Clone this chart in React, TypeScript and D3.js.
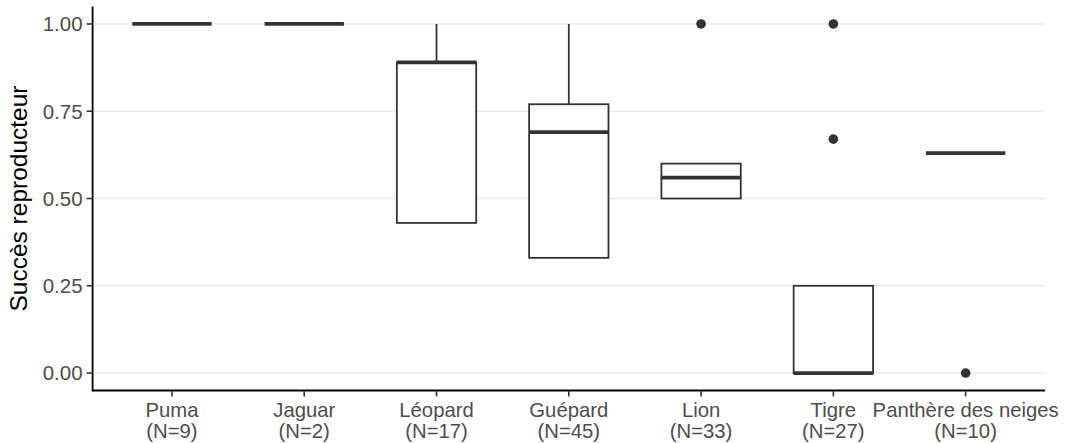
import React from "react";
import * as d3 from "d3";

const categories = ["Puma", "Jaguar", "Léopard", "Guépard", "Lion", "Tigre", "Panthère des neiges"];
const counts = [9, 2, 17, 45, 33, 27, 10];
const q1 = [1.0, 1.0, 0.43, 0.33, 0.5, 0.0, 0.63];
const medians = [1.0, 1.0, 0.89, 0.69, 0.56, 0.0, 0.63];
const q3 = [1.0, 1.0, 0.89, 0.77, 0.6, 0.25, 0.63];
const whiskerLow = [1.0, 1.0, 0.43, 0.33, 0.5, 0.0, 0.63];
const whiskerHigh = [1.0, 1.0, 1.0, 1.0, 0.6, 0.25, 0.63];
const outliers: number[][] = [[], [], [], [], [1.0], [1.0, 0.67], [0.0]];
const yTicks = [0, 0.25, 0.5, 0.75, 1.0];
const yTitle = "Succès reproducteur";

const W = 1066;
const H = 443;
const left = 92.6;
const right = 1045;
const top = 6.5;
const bottom = 390.5;

export default function App() {
  const x = d3.scalePoint<string>().domain(categories).range([left, right]).padding(0.6);
  const y = d3.scaleLinear().domain([-0.05, 1.05]).range([bottom, top]);
  const step = x.step();
  const bw = step * 0.6;
  const font = "'Liberation Sans', Arial, sans-serif";
  const stroke = "#333333";

  return (
    <svg width={W} height={H} style={{ position: "absolute", left: 0, top: 0, background: "#fff" }} fontFamily={font}>
      {yTicks.map((t) => (
        <line key={"g" + t} x1={left} x2={right} y1={y(t)} y2={y(t)} stroke="#ebebeb" strokeWidth={1.4} />
      ))}
      {categories.map((c, i) => {
        const cx = x(c)!;
        return (
          <g key={c}>
            {whiskerHigh[i] > q3[i] && (
              <line x1={cx} x2={cx} y1={y(q3[i])} y2={y(whiskerHigh[i])} stroke={stroke} strokeWidth={1.8} />
            )}
            {whiskerLow[i] < q1[i] && (
              <line x1={cx} x2={cx} y1={y(q1[i])} y2={y(whiskerLow[i])} stroke={stroke} strokeWidth={1.8} />
            )}
            <rect
              x={cx - bw / 2}
              width={bw}
              y={y(q3[i])}
              height={y(q1[i]) - y(q3[i])}
              fill="#fff"
              stroke={stroke}
              strokeWidth={1.8}
            />
            <line x1={cx - bw / 2} x2={cx + bw / 2} y1={y(medians[i])} y2={y(medians[i])} stroke={stroke} strokeWidth={3.8} />
            {outliers[i].map((o, j) => (
              <circle key={j} cx={cx} cy={y(o)} r={4.8} fill={stroke} />
            ))}
          </g>
        );
      })}
      {/* axes */}
      <line x1={left} x2={left} y1={top} y2={bottom + 0.8} stroke="#000" strokeWidth={1.8} />
      <line x1={left - 0.8} x2={right} y1={bottom} y2={bottom} stroke="#000" strokeWidth={1.8} />
      {yTicks.map((t) => (
        <g key={"t" + t}>
          <line x1={left - 6} x2={left} y1={y(t)} y2={y(t)} stroke="#333" strokeWidth={1.6} />
          <text x={left - 10} y={y(t)} dy="0.36em" textAnchor="end" fontSize={20.5} fill="#4d4d4d">
            {t.toFixed(2)}
          </text>
        </g>
      ))}
      {categories.map((c, i) => {
        const cx = x(c)!;
        return (
          <g key={"x" + c}>
            <line x1={cx} x2={cx} y1={bottom} y2={bottom + 6} stroke="#333" strokeWidth={1.6} />
            <text x={cx} y={bottom + 26} textAnchor="middle" fontSize={20.3} fill="#4d4d4d">
              {c}
            </text>
            <text x={cx} y={bottom + 47} textAnchor="middle" fontSize={20.3} fill="#4d4d4d">
              {`(N=${counts[i]})`}
            </text>
          </g>
        );
      })}
      <text
        transform={`translate(27, ${(top + bottom) / 2}) rotate(-90)`}
        textAnchor="middle"
        fontSize={24.5}
        fill="#000"
      >
        {yTitle}
      </text>
    </svg>
  );
}
